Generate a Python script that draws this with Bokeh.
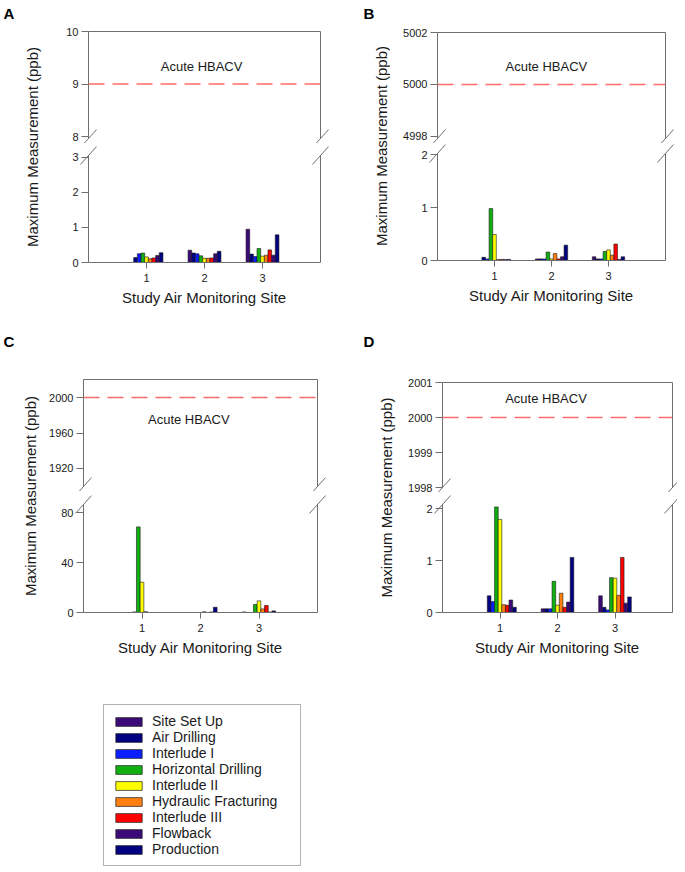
import math
from bokeh.plotting import figure
from bokeh.models import (ColumnDataSource, Range1d, FixedTicker, LinearAxis, Span,
                          Legend, LegendItem, Label)
from bokeh.transform import dodge
from bokeh.layouts import row, column
from bokeh.embed import file_html
from bokeh.resources import INLINE

# ---------------- data ----------------
phases = ["Site Set Up", "Air Drilling", "Interlude I", "Horizontal Drilling", "Interlude II",
          "Hydraulic Fracturing", "Interlude III", "Flowback", "Production"]
phase_colors = ["#3C0A78", "#000080", "#0A1EFF", "#10B010", "#FFFF00",
                "#FF8010", "#FF0000", "#3C0A78", "#000080"]
sites = [1, 2, 3]

# Panel A (ppb), values per phase at each site
a_site1 = [0.00, 0.14, 0.25, 0.27, 0.16, 0.11, 0.13, 0.20, 0.28]
a_site2 = [0.35, 0.27, 0.25, 0.19, 0.12, 0.12, 0.13, 0.25, 0.32]
a_site3 = [0.95, 0.24, 0.17, 0.40, 0.18, 0.21, 0.36, 0.21, 0.79]
# Panel B
b_site1 = [0.00, 0.06, 0.03, 0.98, 0.49, 0.02, 0.02, 0.02, 0.02]
b_site2 = [0.03, 0.03, 0.03, 0.16, 0.03, 0.13, 0.03, 0.07, 0.29]
b_site3 = [0.07, 0.03, 0.03, 0.17, 0.20, 0.10, 0.31, 0.02, 0.07]
# Panel C
c_site1 = [0.0, 0.0, 0.5, 68.5, 24.2, 0.7, 0.0, 0.0, 0.0]
c_site2 = [0.0, 0.0, 0.0, 0.0, 0.0, 0.6, 0.0, 0.5, 4.2]
c_site3 = [0.5, 0.0, 0.0, 6.4, 9.3, 2.9, 5.6, 0.4, 1.3]
# Panel D
d_site1 = [0.00, 0.32, 0.21, 2.03, 1.79, 0.15, 0.14, 0.24, 0.10]
d_site2 = [0.07, 0.07, 0.07, 0.60, 0.14, 0.37, 0.10, 0.20, 1.06]
d_site3 = [0.32, 0.10, 0.05, 0.67, 0.66, 0.33, 1.06, 0.18, 0.30]

hbacv_a, hbacv_b, hbacv_c, hbacv_d = 9, 5000, 2000, 2000

a_top_ticks, a_bot_ticks = [8, 9, 10], [0, 1, 2, 3]
b_top_ticks, b_bot_ticks = [4998, 5000, 5002], [0, 1, 2]
c_top_ticks, c_bot_ticks = [1920, 1960, 2000], [0, 40, 80]
d_top_ticks, d_bot_ticks = [1998, 1999, 2000, 2001], [0, 1, 2]

# ---------------- style ----------------
FONT = "Liberation Sans"
AXC = "#6E6E6E"
TXT = "#1A1A1A"
BAR_W = 0.063


def style_axis(ax, ticks, tick_out=7, standoff=3):
    ax.ticker = FixedTicker(ticks=ticks)
    ax.minor_tick_line_color = None
    ax.major_tick_in = 0
    ax.major_tick_out = tick_out
    ax.major_label_standoff = standoff
    ax.axis_line_color = AXC
    ax.major_tick_line_color = AXC
    ax.major_label_text_font = FONT
    ax.major_label_text_font_size = "11px"
    ax.major_label_text_color = TXT


def border_axis(p, side):
    ax = LinearAxis(ticker=FixedTicker(ticks=[]), major_tick_in=0, major_tick_out=0,
                    minor_tick_in=0, minor_tick_out=0, axis_line_color=AXC,
                    major_label_text_font_size="0px")
    p.add_layout(ax, side)


def base_fig(w, h, xr, yr, bl, br, bt, bb):
    p = figure(width=w, height=h, x_range=xr, y_range=yr,
               min_border_left=bl, min_border_right=br,
               min_border_top=bt, min_border_bottom=bb,
               toolbar_location=None, output_backend="svg",
               x_axis_location=None, y_axis_location=None)
    p.outline_line_color = None
    p.xgrid.visible = False
    p.ygrid.visible = False
    p.background_fill_color = "white"
    p.border_fill_color = "white"
    return p


def make_panel(letter, site_vals, top_ticks, bot_ticks, top_rng, bot_rng, hb, hb_xy, g):
    xr = Range1d(0, 4)
    # ---- upper (threshold) segment ----
    pt = base_fig(g["fig_w"], g["top_h"], xr, Range1d(*top_rng),
                  g["left"], g["right"], g["top_bt"], g["top_bb"])
    yax = LinearAxis()
    style_axis(yax, top_ticks)
    pt.add_layout(yax, "left")
    border_axis(pt, "above")
    border_axis(pt, "right")
    pt.add_layout(Span(location=hb, dimension="width", line_color="#FF6B6B",
                       line_dash="16 8", line_width=1.5))
    pt.add_layout(Label(x=hb_xy[0], y=hb_xy[1], text="Acute HBACV", text_align="center",
                        text_baseline="middle", text_font=FONT, text_font_size="13px",
                        text_color=TXT))
    pt.scatter(x=[xr.start, xr.end], y=[top_rng[0], top_rng[0]], marker="dash", size=24,
               angle=0.84, line_color=AXC, line_width=1, level="overlay")

    # ---- lower (data) segment ----
    pb = base_fig(g["fig_w"], g["bot_h"], xr, Range1d(*bot_rng),
                  g["left"], g["right"], g["bot_bt"], g["bot_bb"])
    yb = LinearAxis()
    style_axis(yb, bot_ticks)
    pb.add_layout(yb, "left")
    xa = LinearAxis(axis_label="Study Air Monitoring Site")
    style_axis(xa, sites, tick_out=6, standoff=5)
    xa.axis_label_text_font = FONT
    xa.axis_label_text_font_size = "15px"
    xa.axis_label_text_font_style = "normal"
    xa.axis_label_text_color = TXT
    xa.axis_label_standoff = 4
    pb.add_layout(xa, "below")
    border_axis(pb, "right")

    data = {"site": sites}
    for k in range(len(phases)):
        data[f"p{k}"] = [sv[k] for sv in site_vals]
    src = ColumnDataSource(data)
    for k, c in enumerate(phase_colors):
        pb.vbar(x=dodge("site", (k - 4) * BAR_W, range=xr), top=f"p{k}", width=BAR_W,
                bottom=0, source=src, fill_color=c, line_color="#1A1A1A", line_width=0.6)
    pb.scatter(x=[xr.start, xr.end], y=[bot_rng[1], bot_rng[1]], marker="dash", size=24,
               angle=0.84, line_color=AXC, line_width=1, level="overlay")

    # ---- side strip with panel letter and y title ----
    ps = base_fig(g["side_w"], g["row_h"], Range1d(0, g["side_w"]), Range1d(0, g["row_h"]),
                  0, 0, 0, 0)
    ps.add_layout(Label(x=g["letter_xy"][0], y=g["letter_xy"][1], text=letter,
                        text_align="left", text_baseline="top", text_font=FONT,
                        text_font_size="15px", text_font_style="bold", text_color="black"))
    ps.add_layout(Label(x=g["title_xy"][0], y=g["title_xy"][1],
                        text="Maximum Measurement (ppb)", angle=math.pi / 2,
                        text_align="center", text_baseline="middle", text_font=FONT,
                        text_font_size="15px", text_color=TXT))
    return row(ps, column(pt, pb, spacing=0), spacing=0)


geo_a = dict(side_w=60, fig_w=275, left=28, right=15, top_h=143, top_bt=31, top_bb=5,
             bot_h=177, bot_bt=12, bot_bb=58, row_h=320, letter_xy=(3, 316), title_xy=(32, 173.5))
geo_b = dict(side_w=55, fig_w=287, left=47, right=12, top_h=143, top_bt=32, top_bb=5,
             bot_h=177, bot_bt=10, bot_bb=60, row_h=320, letter_xy=(28, 316), title_xy=(46, 174.5))
geo_c = dict(side_w=43, fig_w=317, left=40, right=43, top_h=171, top_bt=59, top_bb=5,
             bot_h=169, bot_bt=13, bot_bb=48, row_h=340, letter_xy=(3, 328), title_xy=(30, 164.5))
geo_d = dict(side_w=40, fig_w=277, left=42, right=5, top_h=172, top_bt=62, top_bb=5,
             bot_h=168, bot_bt=12, bot_bb=48, row_h=340, letter_xy=(3, 328), title_xy=(26, 163))

panel_a = make_panel("A", [a_site1, a_site2, a_site3], a_top_ticks, a_bot_ticks,
                     (7.962, 10), (0, 3.057), hbacv_a, (1.95, 9.33), geo_a)
panel_b = make_panel("B", [b_site1, b_site2, b_site3], b_top_ticks, b_bot_ticks,
                     (4997.92, 5002), (0, 2.02), hbacv_b, (1.91, 5000.7), geo_b)
panel_c = make_panel("C", [c_site1, c_site2, c_site3], c_top_ticks, c_bot_ticks,
                     (1899.7, 2020.3), (0, 86.4), hbacv_c, (1.8, 1975), geo_c)
panel_d = make_panel("D", [d_site1, d_site2, d_site3], d_top_ticks, d_bot_ticks,
                     (1998, 2001), (0, 2.077), hbacv_d, (1.8, 2000.55), geo_d)

# ---------------- legend ----------------
pl = base_fig(677, 208, Range1d(0, 1), Range1d(0, 1), 103, 0, 44, 0)
items = []
for name, c in zip(phases, phase_colors):
    r = pl.rect(x=[-5], y=[-5], width=1, height=1, fill_color=c, line_color="#333333",
                line_width=0.8)
    items.append(LegendItem(label=name, renderers=[r]))
leg = Legend(items=items, location="top_left", margin=0, padding=8, spacing=0,
             glyph_width=33, glyph_height=11, label_height=16, label_standoff=7,
             label_width=140,
             label_text_font=FONT, label_text_font_size="14px", label_text_color=TXT,
             border_line_color="#666666", border_line_width=1, background_fill_alpha=1)
pl.add_layout(leg)

layout = column(row(panel_a, panel_b, spacing=0), row(panel_c, panel_d, spacing=0), pl,
                spacing=0)

open("out.html", "w").write(file_html(layout, INLINE))
